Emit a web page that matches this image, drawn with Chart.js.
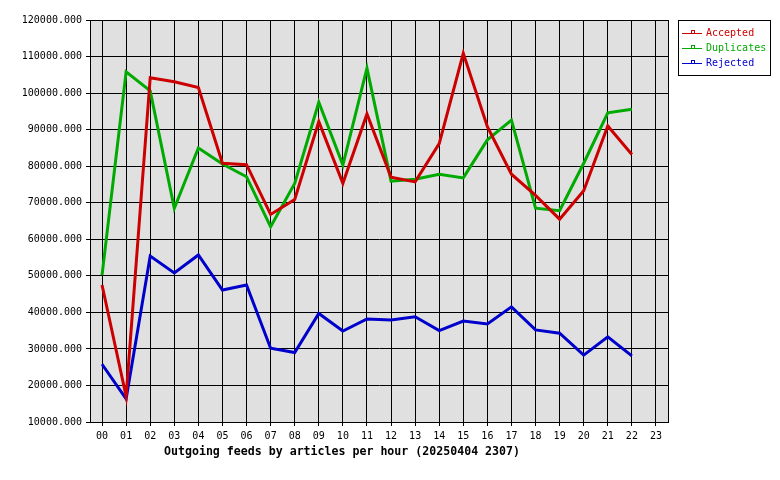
<!DOCTYPE html>
<html>
<head>
<meta charset="utf-8">
<script src="https://cdn.jsdelivr.net/npm/chart.js@4/dist/chart.umd.min.js"></script>
<style>
  html, body { margin: 0; padding: 0; background: #fff; }
  #wrap { width: 780px; height: 480px; }
</style>
</head>
<body>
<div id="wrap"><canvas id="feeds" width="780" height="480"></canvas></div>
<script>
// hours on the x axis
const hours = ["00","01","02","03","04","05","06","07","08","09","10","11",
               "12","13","14","15","16","17","18","19","20","21","22","23"];

// articles per hour (hour 23 not yet recorded)
const accepted = [47500, 17000, 104200, 103100, 101500, 80800, 80400, 66800, 70900, 92200, 75300, 94300,
                  77000, 75700, 86200, 110900, 90800, 77800, 72000, 65500, 73300, 91000, 83200];
const duplicates = [50200, 105800, 100600, 68500, 85000, 80600, 77100, 63400, 75300, 97500, 80300, 106800,
                    75900, 76400, 77800, 76800, 87200, 92600, 68500, 67800, 80800, 94600, 95600];
const rejected = [25800, 16300, 55400, 50800, 55700, 46100, 47500, 30200, 29000, 39700, 34900, 38200,
                  37900, 38800, 35000, 37600, 36800, 41500, 35200, 34300, 28300, 33300, 28100];

const yMin = 10000;
const yMax = 120000;
const yStep = 10000;

const MONO = "'DejaVu Sans Mono', 'Liberation Mono', monospace";

// grey plot background + closing frame
const plotFrame = {
  id: "plotFrame",
  beforeDraw(chart) {
    const { ctx, chartArea: a } = chart;
    ctx.save();
    ctx.fillStyle = "#e0e0e0";
    ctx.fillRect(a.left, a.top, a.right - a.left, a.bottom - a.top);
    ctx.restore();
  },
  afterDraw(chart) {
    const { ctx, chartArea: a } = chart;
    ctx.save();
    ctx.strokeStyle = "#000";
    ctx.lineWidth = 1;
    ctx.strokeRect(Math.round(a.left) + 0.5, Math.round(a.top) + 0.5,
                   Math.round(a.right - a.left), Math.round(a.bottom - a.top));
    ctx.restore();
  }
};

// boxed legend to the right of the plot
const boxLegend = {
  id: "boxLegend",
  afterDraw(chart) {
    const { ctx } = chart;
    const x0 = 678, y0 = 20, w = 92, h = 55;
    ctx.save();
    ctx.fillStyle = "#fff";
    ctx.fillRect(x0, y0, w, h);
    ctx.strokeStyle = "#000";
    ctx.lineWidth = 1;
    ctx.strokeRect(x0 + 0.5, y0 + 0.5, w, h);
    ctx.font = "10px " + MONO;
    ctx.textBaseline = "middle";
    chart.data.datasets.forEach((ds, i) => {
      const y = 33.5 + i * 15;
      ctx.strokeStyle = ds.borderColor;
      ctx.beginPath();
      ctx.moveTo(x0 + 4, y);
      ctx.lineTo(x0 + 24, y);
      ctx.stroke();
      ctx.strokeRect(x0 + 13.5, y - 3, 3, 3);
      ctx.fillStyle = ds.borderColor;
      ctx.fillText(ds.label, x0 + 28, y);
    });
    ctx.restore();
  }
};

const lineSet = (label, data, color) => ({
  label,
  data,
  borderColor: color,
  backgroundColor: color,
  borderWidth: 3,
  pointRadius: 0,
  tension: 0,
  fill: false
});

new Chart(document.getElementById("feeds"), {
  type: "line",
  data: {
    labels: hours,
    datasets: [
      lineSet("Accepted", accepted, "#cc0000"),
      lineSet("Duplicates", duplicates, "#00aa00"),
      lineSet("Rejected", rejected, "#0000cc")
    ]
  },
  options: {
    responsive: false,
    animation: false,
    devicePixelRatio: 1,
    layout: { padding: { left: 16, right: 112, top: 20, bottom: 0 } },
    plugins: {
      legend: { display: false },
      tooltip: { enabled: false },
      title: {
        display: true,
        position: "bottom",
        text: "Outgoing feeds by articles per hour (20250404 2307)",
        color: "#000",
        font: { family: MONO, size: 11.6, weight: "bold", lineHeight: "14px" },
        padding: { top: 2, bottom: 21 }
      }
    },
    scales: {
      x: {
        offset: true,
        grid: { offset: false, color: "#000", lineWidth: 1, tickLength: 4, drawOnChartArea: true },
        border: { color: "#000", width: 1 },
        ticks: { color: "#000", font: { family: MONO, size: 10 }, padding: 4, maxRotation: 0, autoSkip: false },
        afterFit: (s) => { s.height = 21; }
      },
      y: {
        min: yMin,
        max: yMax,
        grid: { color: "#000", lineWidth: 1, tickLength: 4 },
        border: { color: "#000", width: 1 },
        ticks: {
          stepSize: yStep,
          color: "#000",
          font: { family: MONO, size: 10 },
          padding: 4,
          callback: (v) => v.toFixed(3)
        },
        afterFit: (s) => { s.width = 74; }
      }
    }
  },
  plugins: [plotFrame, boxLegend]
});
</script>
</body>
</html>
